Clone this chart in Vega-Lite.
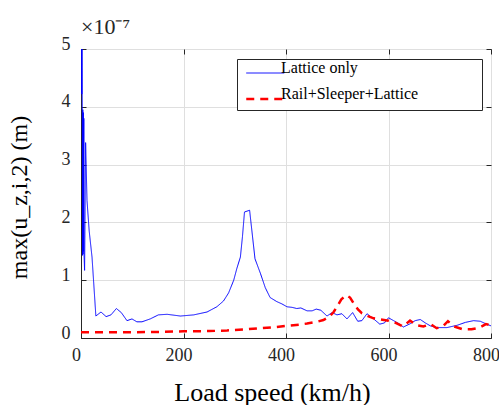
{
  "$schema": "https://vega.github.io/schema/vega-lite/v6.json",
  "width": 410,
  "height": 289,
  "autosize": {"type": "none"},
  "padding": {"left": 81, "top": 49, "right": 8, "bottom": 67},
  "background": "white",
  "config": {
    "font": "Liberation Serif",
    "view": {"stroke": "#262626", "strokeWidth": 1},
    "title": {"fontSize": 22}
  },
  "title": {
    "text": "×10⁻⁷",
    "anchor": "start",
    "frame": "group",
    "fontSize": 22,
    "font": "Liberation Serif",
    "fontWeight": "normal",
    "color": "#262626",
    "baseline": "alphabetic",
    "offset": 16,
    "dy": 37
  },
  "datasets": {
    "curves": [
      {"speed": 0, "u": 8, "case": "Lattice only"},
      {"speed": 0.5, "u": 4.22, "case": "Lattice only"},
      {"speed": 1, "u": 7, "case": "Lattice only"},
      {"speed": 1.5, "u": 4.22, "case": "Lattice only"},
      {"speed": 2, "u": 6, "case": "Lattice only"},
      {"speed": 2.5, "u": 4.0, "case": "Lattice only"},
      {"speed": 3, "u": 1.43, "case": "Lattice only"},
      {"speed": 3.5, "u": 3.95, "case": "Lattice only"},
      {"speed": 4, "u": 1.45, "case": "Lattice only"},
      {"speed": 4.5, "u": 3.9, "case": "Lattice only"},
      {"speed": 5, "u": 1.5, "case": "Lattice only"},
      {"speed": 5.5, "u": 3.8, "case": "Lattice only"},
      {"speed": 6, "u": 1.43, "case": "Lattice only"},
      {"speed": 7, "u": 1.17, "case": "Lattice only"},
      {"speed": 9, "u": 3.38, "case": "Lattice only"},
      {"speed": 11.7, "u": 2.38, "case": "Lattice only"},
      {"speed": 16, "u": 1.85, "case": "Lattice only"},
      {"speed": 21.5, "u": 1.4, "case": "Lattice only"},
      {"speed": 29, "u": 0.38, "case": "Lattice only"},
      {"speed": 39, "u": 0.45, "case": "Lattice only"},
      {"speed": 49, "u": 0.37, "case": "Lattice only"},
      {"speed": 58.5, "u": 0.4, "case": "Lattice only"},
      {"speed": 69, "u": 0.51, "case": "Lattice only"},
      {"speed": 78.6, "u": 0.44, "case": "Lattice only"},
      {"speed": 89.7, "u": 0.3, "case": "Lattice only"},
      {"speed": 99.5, "u": 0.33, "case": "Lattice only"},
      {"speed": 109, "u": 0.28, "case": "Lattice only"},
      {"speed": 119, "u": 0.28, "case": "Lattice only"},
      {"speed": 135, "u": 0.33, "case": "Lattice only"},
      {"speed": 151, "u": 0.4, "case": "Lattice only"},
      {"speed": 168, "u": 0.41, "case": "Lattice only"},
      {"speed": 194, "u": 0.38, "case": "Lattice only"},
      {"speed": 220, "u": 0.4, "case": "Lattice only"},
      {"speed": 246, "u": 0.45, "case": "Lattice only"},
      {"speed": 265, "u": 0.54, "case": "Lattice only"},
      {"speed": 278, "u": 0.64, "case": "Lattice only"},
      {"speed": 288, "u": 0.78, "case": "Lattice only"},
      {"speed": 298, "u": 1.0, "case": "Lattice only"},
      {"speed": 304, "u": 1.2, "case": "Lattice only"},
      {"speed": 311, "u": 1.4, "case": "Lattice only"},
      {"speed": 315, "u": 1.75, "case": "Lattice only"},
      {"speed": 319, "u": 2.18, "case": "Lattice only"},
      {"speed": 329, "u": 2.21, "case": "Lattice only"},
      {"speed": 339.5, "u": 1.37, "case": "Lattice only"},
      {"speed": 350, "u": 1.12, "case": "Lattice only"},
      {"speed": 359.6, "u": 0.87, "case": "Lattice only"},
      {"speed": 369, "u": 0.7, "case": "Lattice only"},
      {"speed": 382, "u": 0.63, "case": "Lattice only"},
      {"speed": 392, "u": 0.59, "case": "Lattice only"},
      {"speed": 402, "u": 0.54, "case": "Lattice only"},
      {"speed": 412, "u": 0.53, "case": "Lattice only"},
      {"speed": 421, "u": 0.51, "case": "Lattice only"},
      {"speed": 429, "u": 0.52, "case": "Lattice only"},
      {"speed": 441, "u": 0.47, "case": "Lattice only"},
      {"speed": 451, "u": 0.47, "case": "Lattice only"},
      {"speed": 459, "u": 0.5, "case": "Lattice only"},
      {"speed": 468, "u": 0.48, "case": "Lattice only"},
      {"speed": 480, "u": 0.38, "case": "Lattice only"},
      {"speed": 490, "u": 0.44, "case": "Lattice only"},
      {"speed": 499.5, "u": 0.4, "case": "Lattice only"},
      {"speed": 509, "u": 0.42, "case": "Lattice only"},
      {"speed": 519, "u": 0.33, "case": "Lattice only"},
      {"speed": 530, "u": 0.44, "case": "Lattice only"},
      {"speed": 540, "u": 0.29, "case": "Lattice only"},
      {"speed": 548, "u": 0.3, "case": "Lattice only"},
      {"speed": 558, "u": 0.42, "case": "Lattice only"},
      {"speed": 571, "u": 0.33, "case": "Lattice only"},
      {"speed": 583, "u": 0.24, "case": "Lattice only"},
      {"speed": 592, "u": 0.26, "case": "Lattice only"},
      {"speed": 600, "u": 0.35, "case": "Lattice only"},
      {"speed": 610, "u": 0.3, "case": "Lattice only"},
      {"speed": 620, "u": 0.25, "case": "Lattice only"},
      {"speed": 629, "u": 0.19, "case": "Lattice only"},
      {"speed": 643, "u": 0.25, "case": "Lattice only"},
      {"speed": 652, "u": 0.3, "case": "Lattice only"},
      {"speed": 662, "u": 0.32, "case": "Lattice only"},
      {"speed": 672, "u": 0.26, "case": "Lattice only"},
      {"speed": 681.6, "u": 0.21, "case": "Lattice only"},
      {"speed": 694.6, "u": 0.18, "case": "Lattice only"},
      {"speed": 714, "u": 0.18, "case": "Lattice only"},
      {"speed": 734, "u": 0.22, "case": "Lattice only"},
      {"speed": 750, "u": 0.27, "case": "Lattice only"},
      {"speed": 766, "u": 0.3, "case": "Lattice only"},
      {"speed": 779, "u": 0.29, "case": "Lattice only"},
      {"speed": 789, "u": 0.25, "case": "Lattice only"},
      {"speed": 800, "u": 0.21, "case": "Lattice only"},
      {"speed": 0, "u": 0.1, "case": "Rail+Sleeper+Lattice"},
      {"speed": 50, "u": 0.1, "case": "Rail+Sleeper+Lattice"},
      {"speed": 100, "u": 0.1, "case": "Rail+Sleeper+Lattice"},
      {"speed": 150, "u": 0.105, "case": "Rail+Sleeper+Lattice"},
      {"speed": 200, "u": 0.115, "case": "Rail+Sleeper+Lattice"},
      {"speed": 250, "u": 0.12, "case": "Rail+Sleeper+Lattice"},
      {"speed": 285, "u": 0.13, "case": "Rail+Sleeper+Lattice"},
      {"speed": 320, "u": 0.15, "case": "Rail+Sleeper+Lattice"},
      {"speed": 350, "u": 0.17, "case": "Rail+Sleeper+Lattice"},
      {"speed": 380, "u": 0.19, "case": "Rail+Sleeper+Lattice"},
      {"speed": 402, "u": 0.21, "case": "Rail+Sleeper+Lattice"},
      {"speed": 425, "u": 0.23, "case": "Rail+Sleeper+Lattice"},
      {"speed": 441, "u": 0.25, "case": "Rail+Sleeper+Lattice"},
      {"speed": 460, "u": 0.28, "case": "Rail+Sleeper+Lattice"},
      {"speed": 473, "u": 0.31, "case": "Rail+Sleeper+Lattice"},
      {"speed": 485, "u": 0.37, "case": "Rail+Sleeper+Lattice"},
      {"speed": 493, "u": 0.45, "case": "Rail+Sleeper+Lattice"},
      {"speed": 500, "u": 0.55, "case": "Rail+Sleeper+Lattice"},
      {"speed": 508, "u": 0.67, "case": "Rail+Sleeper+Lattice"},
      {"speed": 518, "u": 0.74, "case": "Rail+Sleeper+Lattice"},
      {"speed": 525, "u": 0.7, "case": "Rail+Sleeper+Lattice"},
      {"speed": 532, "u": 0.6, "case": "Rail+Sleeper+Lattice"},
      {"speed": 540, "u": 0.5, "case": "Rail+Sleeper+Lattice"},
      {"speed": 548, "u": 0.43, "case": "Rail+Sleeper+Lattice"},
      {"speed": 560, "u": 0.38, "case": "Rail+Sleeper+Lattice"},
      {"speed": 571, "u": 0.34, "case": "Rail+Sleeper+Lattice"},
      {"speed": 585, "u": 0.32, "case": "Rail+Sleeper+Lattice"},
      {"speed": 600, "u": 0.3, "case": "Rail+Sleeper+Lattice"},
      {"speed": 612, "u": 0.27, "case": "Rail+Sleeper+Lattice"},
      {"speed": 628, "u": 0.2, "case": "Rail+Sleeper+Lattice"},
      {"speed": 642, "u": 0.3, "case": "Rail+Sleeper+Lattice"},
      {"speed": 655, "u": 0.22, "case": "Rail+Sleeper+Lattice"},
      {"speed": 668, "u": 0.2, "case": "Rail+Sleeper+Lattice"},
      {"speed": 682, "u": 0.24, "case": "Rail+Sleeper+Lattice"},
      {"speed": 694, "u": 0.17, "case": "Rail+Sleeper+Lattice"},
      {"speed": 706, "u": 0.2, "case": "Rail+Sleeper+Lattice"},
      {"speed": 716, "u": 0.29, "case": "Rail+Sleeper+Lattice"},
      {"speed": 728, "u": 0.2, "case": "Rail+Sleeper+Lattice"},
      {"speed": 745, "u": 0.15, "case": "Rail+Sleeper+Lattice"},
      {"speed": 762, "u": 0.15, "case": "Rail+Sleeper+Lattice"},
      {"speed": 778, "u": 0.18, "case": "Rail+Sleeper+Lattice"},
      {"speed": 790, "u": 0.24, "case": "Rail+Sleeper+Lattice"},
      {"speed": 800, "u": 0.22, "case": "Rail+Sleeper+Lattice"}
    ]
  },
  "data": {"name": "curves"},
  "resolve": {"axis": {"x": "independent", "y": "independent"}},
  "layer": [
    {
      "mark": {"type": "line", "clip": true},
      "encoding": {
        "x": {
          "field": "speed", "type": "quantitative",
          "scale": {"domain": [0, 800], "nice": false, "zero": false},
          "axis": {
            "values": [0, 200, 400, 600, 800],
            "title": "Load speed (km/h)",
            "titleFont": "Liberation Serif", "titleFontSize": 26, "titleFontWeight": "normal",
            "titleColor": "black", "titlePadding": 15, "titleX": 191, "titleAlign": "center",
            "labelFont": "Liberation Serif", "labelFontSize": 18, "labelColor": "#262626",
            "labelPadding": 13, "labelOffset": -5, "labelFlush": false, "labelOverlap": false,
            "tickSize": -5, "tickColor": "#262626",
            "domainColor": "#262626",
            "grid": true, "gridColor": "#dfdfdf"
          }
        },
        "y": {
          "field": "u", "type": "quantitative",
          "scale": {"domain": [0, 5], "nice": false, "zero": false, "clamp": true},
          "axis": {
            "values": [0, 1, 2, 3, 4, 5],
            "title": "max(u_z,i,2) (m)",
            "titleFont": "Liberation Serif", "titleFontSize": 24, "titleFontWeight": "normal",
            "titleColor": "black", "titlePadding": 30, "titleY": 148, "titleAlign": "center",
            "labelFont": "Liberation Serif", "labelFontSize": 18, "labelColor": "#262626",
            "labelPadding": 16, "labelOffset": -5, "labelFlush": false, "labelOverlap": false,
            "tickSize": -5, "tickColor": "#262626",
            "domainColor": "#262626",
            "grid": true, "gridColor": "#dfdfdf"
          }
        },
        "color": {
          "field": "case", "type": "nominal",
          "scale": {"domain": ["Lattice only", "Rail+Sleeper+Lattice"], "range": ["#0000ff", "#ff0000"]},
          "legend": {
            "title": "x",
            "titleOrient": "right", "titleOpacity": 0, "titleFontSize": 10, "titlePadding": 53,
            "orient": "none", "legendX": 156, "legendY": 10,
            "symbolType": "M-1,0H7", "symbolSize": 90.25,
            "labelFont": "Liberation Serif", "labelFontSize": 16, "labelColor": "black",
            "labelBaseline": "alphabetic", "labelLimit": 400,
            "labelOffset": 22,
            "padding": 6, "rowPadding": 10,
            "strokeColor": "#262626", "fillColor": "white", "cornerRadius": 0
          }
        },
        "strokeDash": {
          "field": "case", "type": "nominal",
          "scale": {"domain": ["Lattice only", "Rail+Sleeper+Lattice"], "range": [[1, 0], [8, 6]]},
          "legend": null
        },
        "strokeWidth": {
          "field": "case", "type": "nominal",
          "scale": {"domain": ["Lattice only", "Rail+Sleeper+Lattice"], "range": [1, 2.5]},
          "legend": null
        }
      }
    },
    {
      "mark": {"type": "point", "opacity": 0},
      "encoding": {
        "x": {
          "field": "speed", "type": "quantitative",
          "scale": {"domain": [0, 800], "nice": false, "zero": false},
          "axis": {"orient": "top", "values": [0, 200, 400, 600, 800], "labels": false, "title": null, "grid": false, "domain": false, "tickSize": -5, "tickColor": "#262626"}
        },
        "y": {
          "field": "u", "type": "quantitative",
          "scale": {"domain": [0, 5], "nice": false, "zero": false, "clamp": true},
          "axis": {"orient": "right", "values": [0, 1, 2, 3, 4, 5], "labels": false, "title": null, "grid": false, "domain": false, "tickSize": -5, "tickColor": "#262626"}
        }
      }
    }
  ]
}
